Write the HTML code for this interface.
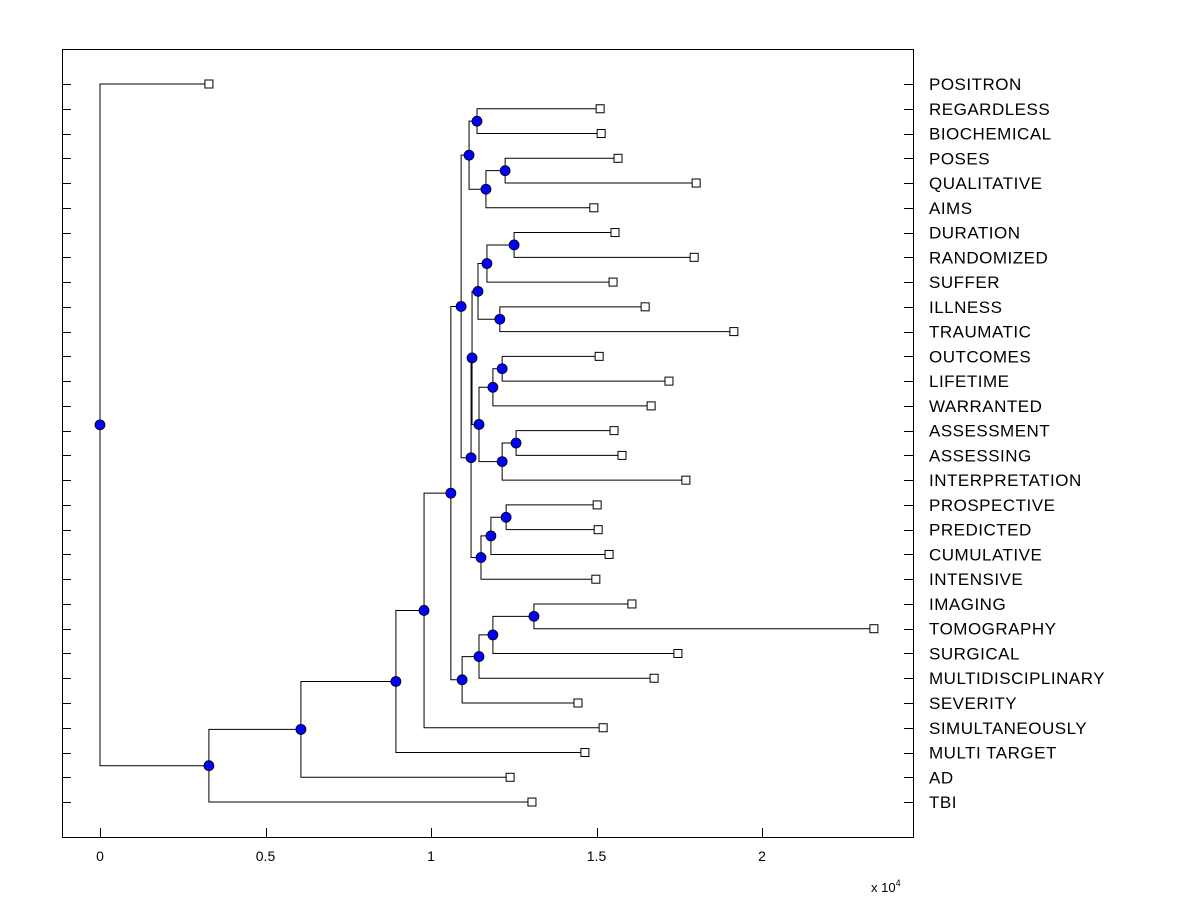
<!DOCTYPE html>
<html><head><meta charset="utf-8"><style>
body{margin:0;background:#fff;}
svg{display:block;font-family:"Liberation Sans",Arial,sans-serif;}
</style></head><body>
<svg id="chart" width="1200" height="900">
<rect x="0" y="0" width="1200" height="900" fill="#fff"/>
<rect x="62.5" y="49.5" width="851" height="788" fill="#fff" stroke="#000"/>
<g id="ticks"></g><g id="tree"></g><g id="labels"></g>
<text x="871" y="892" font-size="13">x 10<tspan dy="-6" font-size="9">4</tspan></text>
</svg>
<script>
const leafNames=["POSITRON","REGARDLESS","BIOCHEMICAL","POSES","QUALITATIVE","AIMS","DURATION","RANDOMIZED","SUFFER","ILLNESS","TRAUMATIC","OUTCOMES","LIFETIME","WARRANTED","ASSESSMENT","ASSESSING","INTERPRETATION","PROSPECTIVE","PREDICTED","CUMULATIVE","INTENSIVE","IMAGING","TOMOGRAPHY","SURGICAL","MULTIDISCIPLINARY","SEVERITY","SIMULTANEOUSLY","MULTI TARGET","AD","TBI"];
const leafValues=[0.329,1.511,1.514,1.565,1.801,1.492,1.556,1.795,1.550,1.647,1.915,1.508,1.719,1.665,1.553,1.577,1.770,1.502,1.505,1.538,1.498,1.607,2.338,1.746,1.674,1.444,1.520,1.465,1.239,1.305];
// merges: children indices (0..29 leaves, 30+ internal nodes in order)
const mergeLeft=[1,3,31,30,6,34,9,35,11,38,14,40,39,37,17,44,45,43,33,21,49,50,51,48,53,54,55,56,0];
const mergeRight=[2,4,5,32,7,8,10,36,12,13,15,16,41,42,18,19,20,46,47,22,23,24,25,52,26,27,28,29,57];
const mergeHeights=[1.139,1.224,1.166,1.115,1.251,1.169,1.208,1.142,1.215,1.187,1.257,1.215,1.145,1.124,1.227,1.181,1.151,1.121,1.091,1.311,1.187,1.145,1.094,1.060,0.979,0.894,0.607,0.329,0];
const xTicks=[0,0.5,1,1.5,2];
const xTickLabels=["0","0.5","1","1.5","2"];

const NS="http://www.w3.org/2000/svg";
const xs=v=>100+331*v;
const ys=i=>84+i*24.76;
const tk=document.getElementById('ticks'),tr=document.getElementById('tree'),lb=document.getElementById('labels');
function mk(tag,attrs,parent){const e=document.createElementNS(NS,tag);for(const k in attrs)e.setAttribute(k,attrs[k]);parent.appendChild(e);return e;}
leafNames.forEach((n,i)=>{
  const y=Math.round(ys(i))+0.5;
  const a=mk('line',{x1:62,x2:71,y1:y,y2:y,stroke:'#000'},tk);
  
  
  const b=mk('line',{x1:904,x2:913,y1:y,y2:y,stroke:'#000'},tk);
  
  
  const t=mk('text',{x:929,y:ys(i)+6,'font-size':17,'letter-spacing':0.5},lb);t.textContent=n;
  
  
});
xTicks.forEach((v,i)=>{
  const x=Math.round(xs(v))+0.5;
  const l=mk('line',{x1:x,x2:x,y1:828,y2:837,stroke:'#000'},tk);
  
  
  const t=mk('text',{x:xs(v),y:861,'font-size':14,'text-anchor':'middle'},lb);t.textContent=xTickLabels[i];
  
  
});
const nx=[],ny=[];
leafValues.forEach((v,i)=>{nx[i]=xs(v);ny[i]=ys(i);});
for(let k=0;k<mergeLeft.length;k++){
  const id=30+k,a=mergeLeft[k],b=mergeRight[k],x=xs(mergeHeights[k]);
  nx[id]=x;ny[id]=(ny[a]+ny[b])/2;
  const p=mk('path',{d:`M${nx[a]} ${ny[a]}H${x}V${ny[b]}H${nx[b]}`,fill:'none',stroke:'#000','stroke-width':1},tr);
  
  
}
leafValues.forEach((v,i)=>{
  const r=mk('rect',{x:nx[i]-4,y:ny[i]-4,width:8,height:8,fill:'#fff',stroke:'#000'},tr);
  
  
});
for(let k=0;k<mergeLeft.length;k++){
  const c=mk('circle',{cx:nx[30+k],cy:ny[30+k],r:5,fill:'#0000ff',stroke:'#000','stroke-width':0.8},tr);
  
  
}
</script>
</body></html>
